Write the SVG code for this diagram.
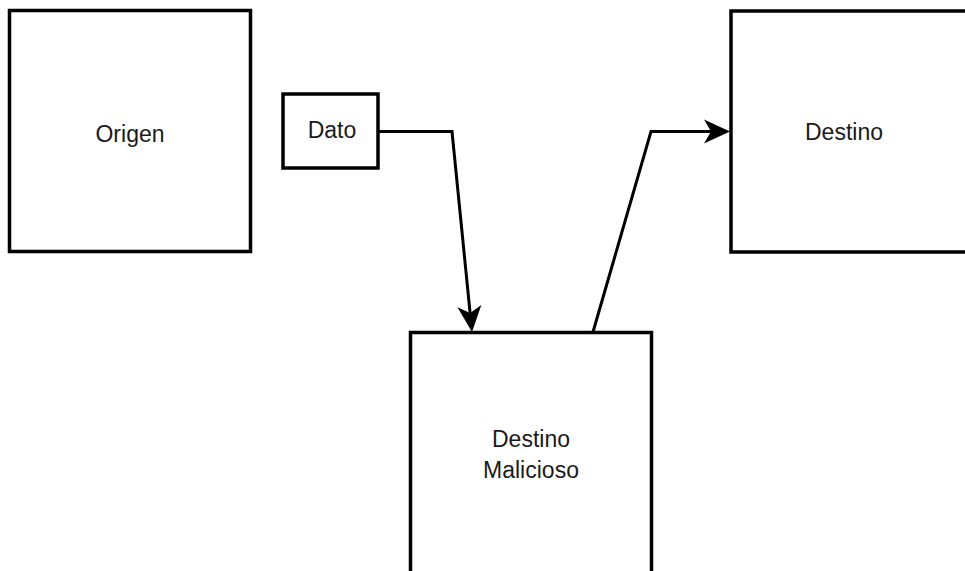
<svg xmlns="http://www.w3.org/2000/svg" width="965" height="571" viewBox="0 0 965 571">
  <style>
    .box { fill: #ffffff; stroke: #000000; stroke-width: 3.5; }
    .edge { fill: none; stroke: #000000; stroke-width: 3; stroke-linejoin: miter; }
    .label { font-family: "Liberation Sans", Arial, sans-serif; font-size: 23px; fill: #1a1a1a; text-anchor: middle; }
  </style>
  <defs>
    <marker id="arrow" markerUnits="userSpaceOnUse" viewBox="-20 -14 34 28" markerWidth="34" markerHeight="28" refX="0" refY="0" orient="auto" overflow="visible">
      <path d="M10,0 L-16,-12 L-9,0 L-16,12 Z" fill="#000000"/>
    </marker>
  </defs>
  <rect width="965" height="571" fill="#ffffff"/>

  <g id="origen">
    <rect class="box" x="9.5" y="10.5" width="241" height="241"/>
    <text class="label" x="130" y="142">Origen</text>
  </g>

  <g id="dato">
    <rect class="box" x="283" y="94" width="95" height="74"/>
    <text class="label" x="332" y="138">Dato</text>
  </g>

  <g id="destino">
    <rect class="box" x="731" y="11" width="250" height="241"/>
    <text class="label" x="844" y="140">Destino</text>
  </g>

  <g id="destino-malicioso">
    <rect class="box" x="410.5" y="332.5" width="241" height="260"/>
    <text class="label" x="531" y="447">Destino</text>
    <text class="label" x="531" y="478">Malicioso</text>
  </g>

  <g id="connectors">
    <path class="edge" d="M378,131.5 L452,131.5 L471,322.05" marker-end="url(#arrow)"/>
    <path class="edge" d="M593,332 L651,131.5 L720,131.5" marker-end="url(#arrow)"/>
  </g>
</svg>
